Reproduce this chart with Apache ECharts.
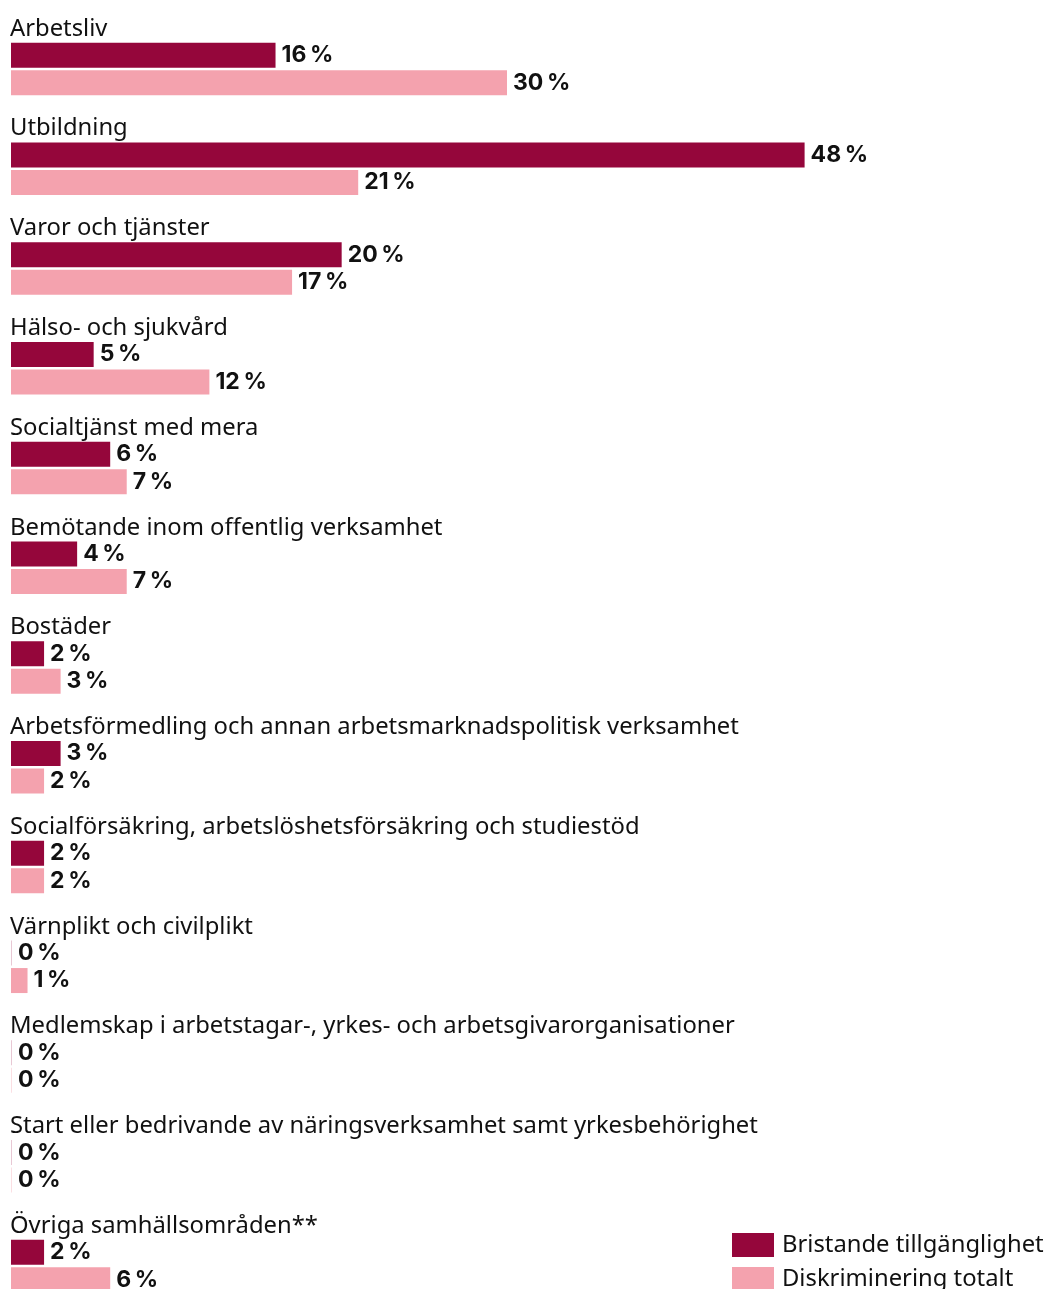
<!DOCTYPE html>
<html lang="sv">
<head>
<meta charset="utf-8">
<title>Anmälningar per samhällsområde</title>
<script src="https://cdn.jsdelivr.net/npm/echarts@6/dist/echarts.min.js"></script>
<style>
  html, body { margin: 0; padding: 0; background: #ffffff; }
  #chart { width: 1045px; height: 1289px; }
</style>
</head>
<body>
<div id="chart"></div>
<script>
// Samhällsområden, i visningsordning uppifrån
const categories = [
  'Arbetsliv',
  'Utbildning',
  'Varor och tjänster',
  'Hälso- och sjukvård',
  'Socialtjänst med mera',
  'Bemötande inom offentlig verksamhet',
  'Bostäder',
  'Arbetsförmedling och annan arbetsmarknadspolitisk verksamhet',
  'Socialförsäkring, arbetslöshetsförsäkring och studiestöd',
  'Värnplikt och civilplikt',
  'Medlemskap i arbetstagar-, yrkes- och arbetsgivarorganisationer',
  'Start eller bedrivande av näringsverksamhet samt yrkesbehörighet',
  'Övriga samhällsområden**'
];

// Andel (%) per område
const bristandeTillganglighet = [16, 48, 20, 5, 6, 4, 2, 3, 2, 0, 0, 0, 2];
const diskrimineringTotalt    = [30, 21, 17, 12, 7, 7, 3, 2, 2, 1, 0, 0, 6];

const seriesNames = ['Bristande tillgänglighet', 'Diskriminering totalt'];
const seriesColors = ['#95063b', '#f4a2ae'];
const zeroColors = ['rgba(149,6,59,0.22)', 'rgba(244,162,174,0.35)'];

// Nollvärden ritas som en svag linje vid axeln
function toItems(values, idx) {
  return values.map(v => v === 0 ? { value: v, itemStyle: { color: zeroColors[idx] } } : v);
}

const TEXT_FONT = '"Noto Sans", Inter, sans-serif';
const VALUE_FONT = 'Inter, "Noto Sans", sans-serif';

const valueLabel = {
  show: true,
  position: 'right',
  distance: 6,
  fontFamily: VALUE_FONT,
  fontSize: 23,
  fontWeight: 700,
  color: '#111111',
  formatter: p => p.value + '\u2009%'
};

const chart = echarts.init(document.getElementById('chart'), null, { renderer: 'canvas' });

chart.setOption({
  animation: false,
  backgroundColor: '#ffffff',
  grid: {
    left: 11, top: 19, width: 992, height: 1297,
    containLabel: false,
    outerBoundsMode: 'none'
  },
  xAxis: {
    type: 'value',
    min: 0,
    max: 60,
    show: false
  },
  yAxis: {
    type: 'category',
    data: categories,
    inverse: true,
    axisLine: { show: false },
    axisTick: { show: false },
    splitLine: { show: false },
    axisLabel: {
      inside: true,
      margin: -1,
      align: 'left',
      verticalAlign: 'bottom',
      padding: [0, 0, 28, 0],
      fontFamily: TEXT_FONT,
      fontSize: 23.8,
      lineHeight: 24,
      color: '#111111'
    },
    z: 10
  },
  legend: {
    orient: 'vertical',
    left: 732,
    top: 1233,
    height: 120,
    itemWidth: 42,
    itemHeight: 24,
    itemGap: 10,
    padding: 0,
    icon: 'rect',
    textStyle: {
      fontFamily: TEXT_FONT,
      fontSize: 23.8,
      color: '#111111',
      padding: [0, 0, 0, 3]
    },
    data: seriesNames
  },
  series: [
    {
      name: seriesNames[0],
      type: 'bar',
      data: toItems(bristandeTillganglighet, 0),
      barWidth: 25,
      barGap: '10%',
      barMinHeight: 1,
      itemStyle: { color: seriesColors[0] },
      label: valueLabel
    },
    {
      name: seriesNames[1],
      type: 'bar',
      data: toItems(diskrimineringTotalt, 1),
      barWidth: 25,
      barGap: '10%',
      barMinHeight: 1,
      itemStyle: { color: seriesColors[1] },
      label: valueLabel
    }
  ]
});
</script>
</body>
</html>
